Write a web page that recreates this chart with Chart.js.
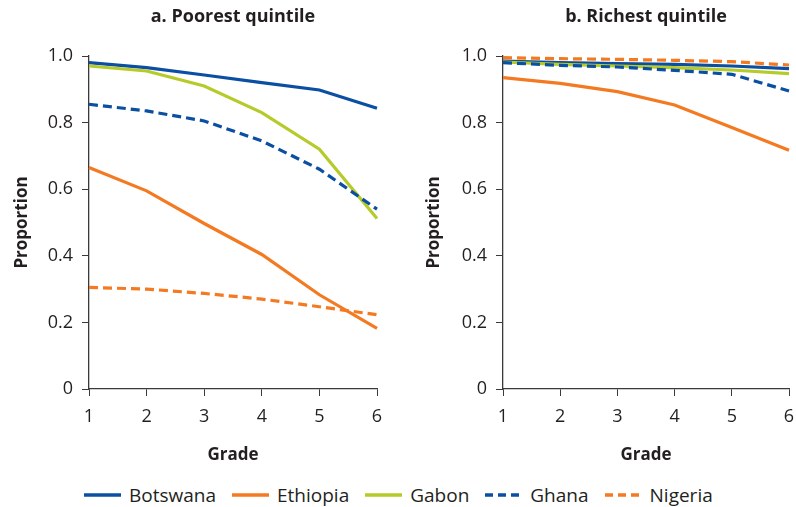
<!DOCTYPE html>
<html lang="en">
<head>
<meta charset="UTF-8">
<title>Proportion by grade, poorest and richest quintile</title>
<script src="https://cdn.jsdelivr.net/npm/chart.js"></script>
<style>
  body{margin:0;background:#fff;width:796px;height:507px;overflow:hidden;position:relative;font-family:"Open Sans",sans-serif;}
  .panel{position:absolute;top:0;}
  #poorBox{left:0;}
  #richBox{left:400px;}
  .legend{position:absolute;top:484px;left:84px;height:22px;line-height:22px;display:flex;align-items:center;color:#231f20;font-size:19px;}
  .legend .item{display:flex;align-items:center;margin-right:16px;}
  .legend svg{margin-right:8px;}
</style>
</head>
<body>

<div class="panel" id="poorBox"><canvas id="poor" width="400" height="475"></canvas></div>
<div class="panel" id="richBox"><canvas id="rich" width="396" height="475"></canvas></div>
<div class="legend" id="legend"></div>

<script>
// data
const grades = ['1', '2', '3', '4', '5', '6'];
const countries = ['Botswana', 'Ethiopia', 'Gabon', 'Ghana', 'Nigeria'];
const colors = ['#0b4fa2', '#f47a22', '#b6cb2a', '#0b4fa2', '#f47a22'];
const dashed = [false, false, false, true, true];

// a. poorest quintile
const poorBotswana = [0.980, 0.965, 0.943, 0.920, 0.898, 0.843];
const poorEthiopia = [0.665, 0.595, 0.497, 0.404, 0.283, 0.182];
const poorGabon    = [0.970, 0.955, 0.910, 0.830, 0.720, 0.512];
const poorGhana    = [0.855, 0.835, 0.805, 0.745, 0.660, 0.540];
const poorNigeria  = [0.305, 0.300, 0.287, 0.270, 0.247, 0.223];

// b. richest quintile
const richBotswana = [0.985, 0.980, 0.977, 0.975, 0.970, 0.962];
const richEthiopia = [0.935, 0.918, 0.893, 0.853, 0.785, 0.717];
const richGabon    = [0.982, 0.975, 0.970, 0.965, 0.958, 0.947];
const richGhana    = [0.980, 0.972, 0.967, 0.957, 0.945, 0.895];
const richNigeria  = [0.995, 0.992, 0.990, 0.987, 0.983, 0.973];

const yTicks = [0, 0.2, 0.4, 0.6, 0.8, 1.0];

const txt = '#231f20';
const axisCol = '#3a3a3a';

function makeSets(series) {
    return series.map(function (vals, i) {
        return {
            label: countries[i],
            data: vals,
            borderColor: colors[i],
            backgroundColor: colors[i],
            borderWidth: 3.2,
            borderDash: dashed[i] ? [9, 5] : [],
            pointRadius: 0,
            tension: 0,
            order: series.length - i
        };
    });
}

function makeChart(id, title, series, yAxisW, padR, yTitlePad) {
    return new Chart(document.getElementById(id), {
        type: 'line',
        data: { labels: grades, datasets: makeSets(series) },
        options: {
            responsive: false,
            animation: false,
            layout: { padding: { left: 0, right: padR, top: 0, bottom: 0 } },
            plugins: {
                legend: { display: false },
                tooltip: { enabled: false },
                title: {
                    display: true,
                    fullSize: false,
                    text: title,
                    color: txt,
                    font: { family: 'Open Sans', size: 18, weight: 'bold' },
                    padding: { top: 6, bottom: 28.4 }
                }
            },
            scales: {
                x: {
                    offset: false,
                    grid: { display: true, drawOnChartArea: false, drawTicks: true, tickLength: 7, color: axisCol },
                    border: { color: axisCol, width: 1.3 },
                    ticks: { color: txt, padding: 10, font: { family: 'Open Sans', size: 18 } },
                    title: { display: true, text: 'Grade', color: txt, padding: { top: 0, bottom: 10 },
                             font: { family: 'Open Sans', size: 17, weight: 'bold' } },
                    afterFit: function (s) { s.height = 86; s.paddingRight = 0; }
                },
                y: {
                    min: 0,
                    max: 1,
                    afterBuildTicks: function (s) { s.ticks = yTicks.map(function (v) { return { value: v }; }); },
                    grid: { display: true, drawOnChartArea: false, drawTicks: true, tickLength: 7, color: axisCol },
                    border: { color: axisCol, width: 1.3 },
                    ticks: {
                        color: txt, padding: 9, font: { family: 'Open Sans', size: 18 },
                        callback: function (v) { return v === 0 ? '0' : v.toFixed(1); }
                    },
                    title: { display: true, text: 'Proportion', color: txt, padding: { top: yTitlePad, bottom: 0 },
                             font: { family: 'Open Sans', size: 17, weight: 'bold' } },
                    afterFit: function (s) { s.width = yAxisW; }
                }
            }
        }
    });
}

makeChart('poor', 'a. Poorest quintile',
    [poorBotswana, poorEthiopia, poorGabon, poorGhana, poorNigeria], 89, 23, 12);
makeChart('rich', 'b. Richest quintile',
    [richBotswana, richEthiopia, richGabon, richGhana, richNigeria], 103, 7, 24);

// shared legend
const leg = document.getElementById('legend');
countries.forEach(function (name, i) {
    const item = document.createElement('div');
    item.className = 'item';
    item.innerHTML = '<svg width="37" height="6"><line x1="0" y1="3" x2="37" y2="3" stroke="' + colors[i] +
        '" stroke-width="3.4"' + (dashed[i] ? ' stroke-dasharray="8,5"' : '') + '/></svg><span>' + name + '</span>';
    leg.appendChild(item);
});
</script>
</body>
</html>
